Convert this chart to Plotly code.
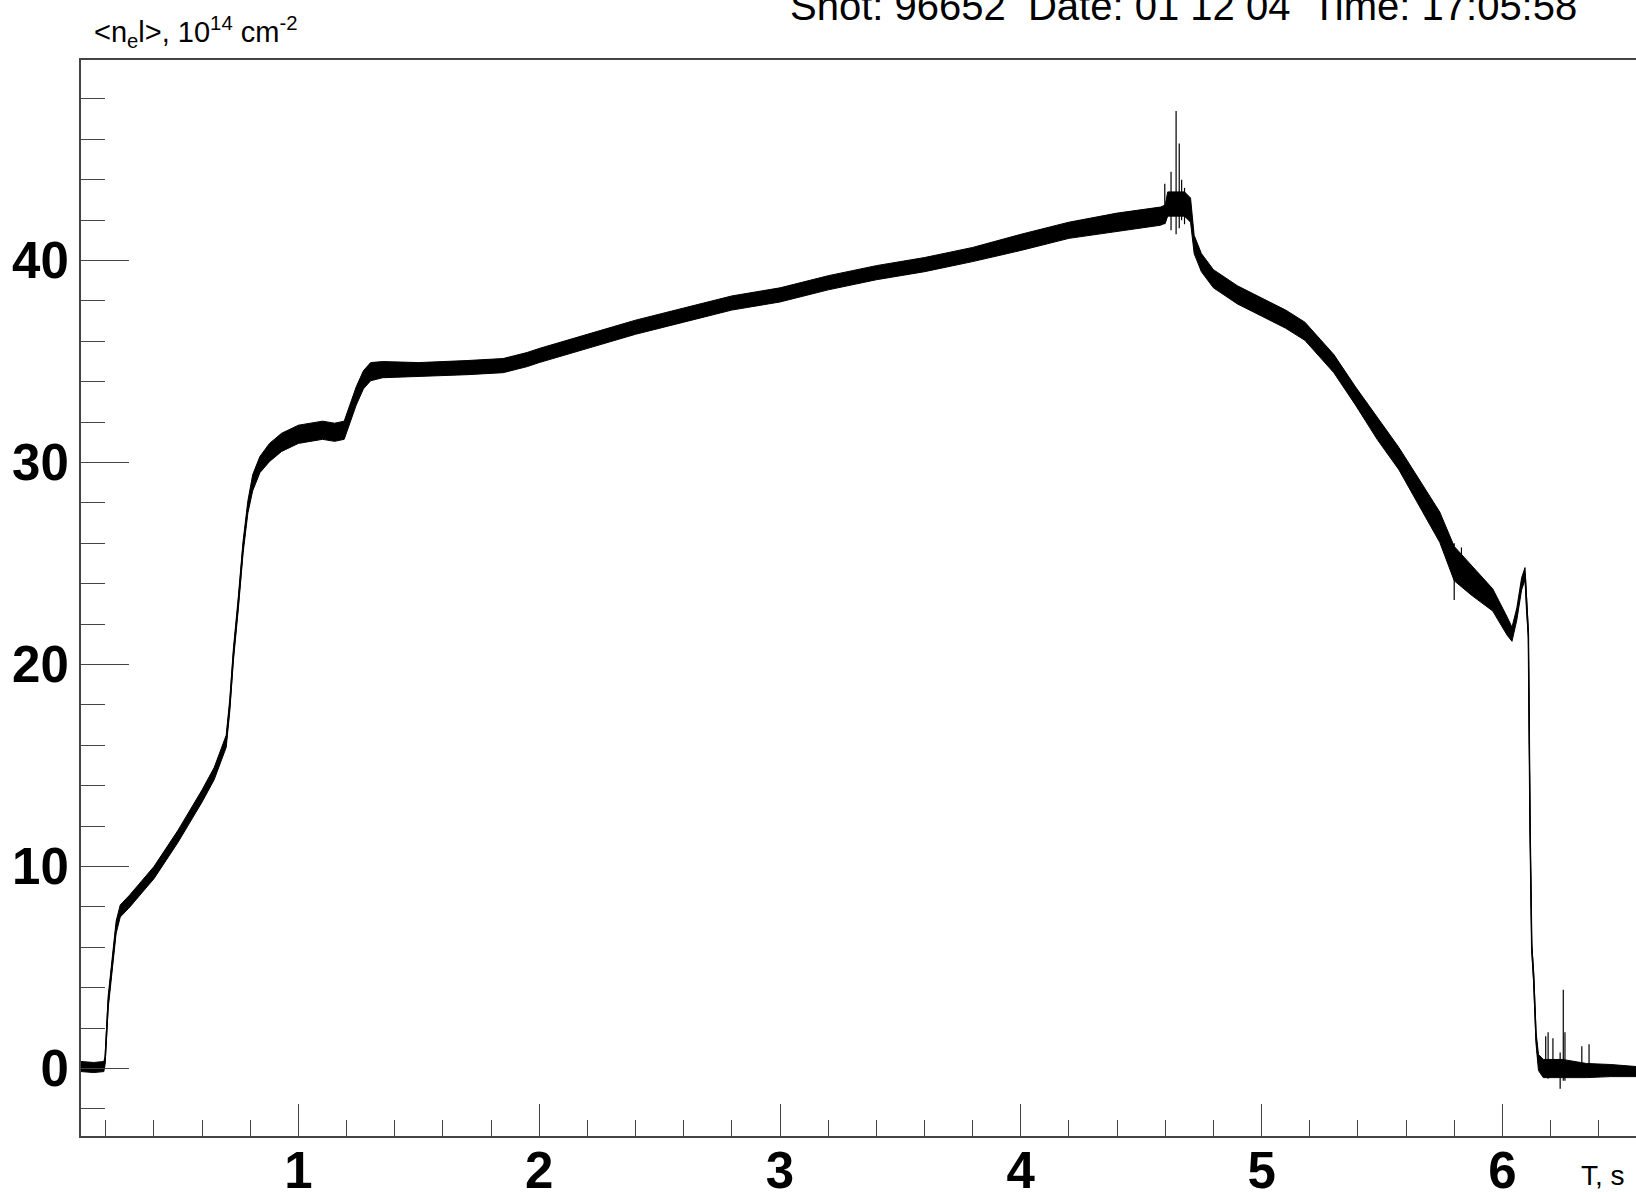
import plotly.graph_objects as go

# ---- data ----
time_s = [0.097, 0.150, 0.192, 0.197, 0.210, 0.226, 0.243, 0.260, 0.300, 0.350,
          0.400, 0.450, 0.500, 0.550, 0.600, 0.650, 0.690, 0.700, 0.715, 0.730,
          0.750, 0.770, 0.790, 0.810, 0.840, 0.880, 0.930, 1.000, 1.100, 1.150,
          1.190, 1.210, 1.240, 1.270, 1.300, 1.350, 1.500, 1.700, 1.850, 1.950,
          2.000, 2.200, 2.400, 2.600, 2.800, 3.000, 3.200, 3.400, 3.600, 3.800,
          4.000, 4.200, 4.400, 4.580, 4.600, 4.610, 4.680, 4.705, 4.720, 4.750,
          4.800, 4.900, 5.000, 5.100, 5.180, 5.300, 5.390, 5.480, 5.570, 5.650,
          5.740, 5.800, 5.870, 5.960, 6.020, 6.040, 6.060, 6.080, 6.094, 6.100,
          6.108, 6.115, 6.122, 6.130, 6.140, 6.150, 6.170, 6.250, 6.350, 6.450,
          6.555]
density = [0.10, 0.05, 0.10, 0.40, 3.3, 5.0, 7.0, 7.8, 8.3, 9.0,
           9.7, 10.6, 11.5, 12.5, 13.5, 14.6, 15.9, 16.2, 18.0, 20.5,
           23.0, 25.8, 27.8, 29.0, 29.9, 30.5, 31.0, 31.4, 31.6, 31.5,
           31.6, 32.3, 33.3, 34.1, 34.5, 34.6, 34.6, 34.7, 34.8, 35.1,
           35.3, 36.0, 36.7, 37.3, 37.9, 38.3, 38.9, 39.4, 39.8, 40.3,
           40.9, 41.5, 41.9, 42.2, 42.3, 42.8, 42.8, 42.5, 40.8, 39.9,
           39.1, 38.3, 37.7, 37.1, 36.5, 34.9, 33.3, 31.7, 30.2, 28.6,
           26.8, 25.0, 24.2, 23.2, 21.9, 21.5, 22.5, 24.0, 24.5, 23.0,
           21.5, 12.0, 6.0, 4.5, 1.5, 0.3, 0.0, 0.0, -0.1, -0.1,
           -0.15]
noise = [0.25, 0.25, 0.25, 0.20, 0.3, 0.3, 0.3, 0.3, 0.3, 0.3,
         0.3, 0.3, 0.3, 0.3, 0.3, 0.3, 0.3, 0.3, 0.3, 0.3,
         0.3, 0.3, 0.3, 0.4, 0.4, 0.45, 0.45, 0.45, 0.45, 0.45,
         0.45, 0.45, 0.45, 0.45, 0.45, 0.4, 0.35, 0.35, 0.35, 0.35,
         0.35, 0.35, 0.35, 0.35, 0.35, 0.35, 0.35, 0.35, 0.35, 0.35,
         0.4, 0.4, 0.45, 0.45, 0.45, 0.6, 0.6, 0.6, 0.45, 0.45,
         0.45, 0.45, 0.45, 0.45, 0.45, 0.45, 0.45, 0.55, 0.55, 0.65,
         0.75, 0.85, 0.75, 0.55, 0.45, 0.35, 0.3, 0.3, 0.3, 0.3,
         0.2, 0.2, 0.2, 0.3, 0.3, 0.4, 0.45, 0.45, 0.35, 0.3,
         0.25]

# isolated spikes (time, low end, high end)
spike_t = [4.598, 4.624, 4.645, 4.658, 4.668, 4.680, 5.800, 5.830,
           6.180, 6.190, 6.210, 6.240, 6.253, 6.260, 6.330, 6.360]
spike_lo = [41.8, 41.5, 41.3, 41.6, 42.0, 41.8, 23.2, 24.0,
            -0.3, -0.5, -0.4, -1.0, -0.6, -0.6, -0.3, -0.2]
spike_hi = [43.8, 44.4, 47.4, 45.8, 44.0, 43.6, 26.0, 25.8,
            1.6, 1.8, 1.5, 0.8, 3.9, 1.8, 1.1, 1.2]

x_tick_vals = [1, 2, 3, 4, 5, 6]
y_tick_vals = [0, 10, 20, 30, 40]

title_text = "Shot: 96652  Date: 01 12 04  Time: 17:05:58"
y_title = "&lt;n<sub>e</sub>l&gt;, 10<sup>14</sup> cm<sup>-2</sup>"
x_title = "T, s"

# ---- build figure ----
upper = [d + n for d, n in zip(density, noise)]
lower = [d - n for d, n in zip(density, noise)]

sx, sy = [], []
for t, lo, hi in zip(spike_t, spike_lo, spike_hi):
    sx += [t, t, None]
    sy += [lo, hi, None]

fig = go.Figure()
fig.add_trace(go.Scatter(x=time_s, y=lower, mode="lines",
                         line=dict(color="black", width=1), showlegend=False))
fig.add_trace(go.Scatter(x=time_s, y=upper, mode="lines", fill="tonexty",
                         fillcolor="black",
                         line=dict(color="black", width=1), showlegend=False))
fig.add_trace(go.Scatter(x=time_s, y=density, mode="lines",
                         line=dict(color="black", width=1.5), showlegend=False))
fig.add_trace(go.Scatter(x=sx, y=sy, mode="lines",
                         line=dict(color="black", width=1.2), showlegend=False))

FONT = "Liberation Sans, Arial, sans-serif"
axis_col = "#444444"
PLOT_L, PLOT_T, PLOT_W, PLOT_H = 81, 60, 1555, 1076


def px_x(p):
    return (p - PLOT_L) / PLOT_W


def px_y(p):
    return 1 - (p - PLOT_T) / PLOT_H


fig.update_layout(
    width=1636, height=1192,
    margin=dict(l=81, r=0, t=60, b=56, pad=0, autoexpand=False),
    paper_bgcolor="white", plot_bgcolor="white",
    font=dict(family=FONT, color="black"),
    xaxis=dict(range=[0.097, 6.555], tickvals=x_tick_vals, automargin=False,
               ticks="inside", ticklen=32, tickwidth=1.2, tickcolor=axis_col,
               ticklabelstandoff=-11,
               showline=True, linecolor=axis_col, linewidth=2, mirror=True,
               showgrid=False, zeroline=False,
               tickfont=dict(family=FONT, size=51, weight="bold", color="black"),
               minor=dict(dtick=0.2, tick0=0, ticks="inside", ticklen=16,
                          tickwidth=1.2, tickcolor=axis_col, showgrid=False)),
    yaxis=dict(range=[-3.34, 49.93], tickvals=y_tick_vals, automargin=False,
               ticks="inside", ticklen=48, tickwidth=1.2, tickcolor=axis_col,
               showline=True, linecolor=axis_col, linewidth=2, mirror=False,
               showgrid=False, zeroline=False,
               tickfont=dict(family=FONT, size=51, weight="bold", color="black"),
               minor=dict(dtick=2, tick0=0, ticks="inside", ticklen=24,
                          tickwidth=1.2, tickcolor=axis_col, showgrid=False)),
)

fig.add_annotation(text=title_text, xref="paper", yref="paper",
                   x=px_x(788), y=px_y(6),
                   xanchor="left", yanchor="middle", showarrow=False,
                   font=dict(family=FONT, size=40, color="black"))
fig.add_annotation(text=y_title, xref="paper", yref="paper",
                   x=px_x(92), y=px_y(32),
                   xanchor="left", yanchor="middle", showarrow=False,
                   font=dict(family=FONT, size=29, color="black"))
fig.add_annotation(text=x_title, xref="paper", yref="paper",
                   x=px_x(1627), y=px_y(1175),
                   xanchor="right", yanchor="middle", showarrow=False,
                   font=dict(family=FONT, size=28, color="black"))

fig.write_html("out.html")
